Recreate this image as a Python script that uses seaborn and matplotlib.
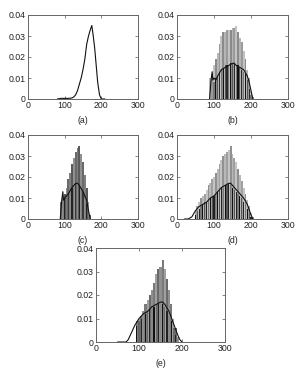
import matplotlib
matplotlib.use("Agg")
import matplotlib.pyplot as plt
import seaborn as sns
import numpy as np

sns.set_theme(style="white")
plt.rcParams['font.family'] = ['Liberation Sans', 'DejaVu Sans']

# ---- data ----
a_line_x = [80, 90, 100, 110, 120, 125, 130, 135, 140, 145, 150, 155, 160, 165, 170, 174, 178, 182, 186, 190, 195, 200, 210]
a_line_y = [0.0, 0.0003, 0.0003, 0.0003, 0.0005, 0.001, 0.002, 0.004, 0.007, 0.010, 0.014, 0.019, 0.026, 0.030, 0.033, 0.035, 0.030, 0.024, 0.016, 0.008, 0.002, 0.0, 0.0]

b_bin = [90, 95, 100, 105, 110, 115, 120, 125, 130, 135, 140, 145, 150, 155, 160, 165, 170, 175, 180, 185, 190, 195, 200, 205]
b_tall = [0.010, 0.012, 0.016, 0.019, 0.022, 0.026, 0.030, 0.032, 0.032, 0.033, 0.033, 0.033, 0.034, 0.034, 0.035, 0.032, 0.029, 0.027, 0.023, 0.019, 0.014, 0.010, 0.004, 0.001]
b_low = [0.0, 0.0, 0.008, 0.010, 0.011, 0.013, 0.014, 0.015, 0.016, 0.016, 0.016, 0.017, 0.017, 0.017, 0.016, 0.016, 0.015, 0.014, 0.013, 0.012, 0.009, 0.005, 0.002, 0.0]
b_line_x = [88, 92, 95, 97, 100, 105, 110, 120, 130, 140, 150, 155, 160, 170, 180, 190, 195, 200, 205]
b_line_y = [0.0, 0.009, 0.013, 0.009, 0.010, 0.009, 0.011, 0.014, 0.015, 0.016, 0.017, 0.017, 0.016, 0.015, 0.014, 0.011, 0.008, 0.004, 0.0]

c_bin = [90, 95, 100, 105, 110, 115, 120, 125, 130, 135, 140, 145, 150, 155, 160, 165, 170]
c_tall = [0.008, 0.010, 0.012, 0.015, 0.019, 0.022, 0.026, 0.029, 0.032, 0.034, 0.035, 0.031, 0.027, 0.021, 0.015, 0.008, 0.002]
c_low = [0.0, 0.008, 0.010, 0.011, 0.012, 0.014, 0.015, 0.016, 0.017, 0.017, 0.016, 0.015, 0.013, 0.010, 0.007, 0.003, 0.0]
c_line_x = [88, 92, 95, 97, 100, 110, 120, 130, 135, 140, 150, 160, 165, 170]
c_line_y = [0.0, 0.009, 0.013, 0.009, 0.010, 0.012, 0.015, 0.017, 0.017, 0.016, 0.013, 0.009, 0.004, 0.0]

d_bin = [50, 55, 60, 65, 70, 75, 80, 85, 90, 95, 100, 105, 110, 115, 120, 125, 130, 135, 140, 145, 150, 155, 160, 165, 170, 175, 180, 185, 190, 195, 200, 205]
d_tall = [0.004, 0.006, 0.008, 0.010, 0.011, 0.012, 0.014, 0.016, 0.017, 0.019, 0.020, 0.022, 0.024, 0.026, 0.028, 0.030, 0.031, 0.032, 0.033, 0.035, 0.031, 0.029, 0.027, 0.024, 0.021, 0.018, 0.015, 0.012, 0.009, 0.006, 0.003, 0.001]
d_low = [0.002, 0.004, 0.005, 0.006, 0.007, 0.008, 0.008, 0.009, 0.010, 0.011, 0.011, 0.012, 0.013, 0.014, 0.015, 0.015, 0.016, 0.016, 0.017, 0.016, 0.015, 0.014, 0.013, 0.012, 0.011, 0.010, 0.008, 0.007, 0.005, 0.003, 0.001, 0.0]
d_line_x = [20, 30, 40, 50, 60, 70, 80, 90, 100, 110, 120, 130, 140, 145, 150, 160, 170, 180, 190, 200, 205]
d_line_y = [0.0, 0.0, 0.001, 0.004, 0.006, 0.007, 0.008, 0.010, 0.011, 0.013, 0.015, 0.016, 0.017, 0.017, 0.016, 0.014, 0.012, 0.010, 0.007, 0.002, 0.0]

e_bin = [95, 100, 105, 110, 115, 120, 125, 130, 135, 140, 145, 150, 155, 160, 165, 170, 175, 180, 185, 190]
e_tall = [0.009, 0.010, 0.011, 0.013, 0.016, 0.018, 0.020, 0.022, 0.025, 0.029, 0.031, 0.032, 0.035, 0.031, 0.027, 0.022, 0.016, 0.010, 0.006, 0.002]
e_low = [0.007, 0.009, 0.010, 0.011, 0.012, 0.013, 0.014, 0.014, 0.015, 0.016, 0.016, 0.016, 0.016, 0.015, 0.013, 0.011, 0.009, 0.006, 0.003, 0.001]
e_line_x = [50, 60, 70, 75, 80, 90, 100, 110, 120, 130, 140, 150, 155, 160, 170, 180, 190, 195, 200]
e_line_y = [0.0, 0.0, 0.0, 0.001, 0.003, 0.007, 0.010, 0.012, 0.013, 0.015, 0.016, 0.017, 0.017, 0.016, 0.013, 0.008, 0.003, 0.001, 0.0]

x_ticks = [0, 100, 200, 300]
y_ticks = [0, 0.01, 0.02, 0.03, 0.04]
y_ticklabels = ["0", "0.01", "0.02", "0.03", "0.04"]
panel_labels = ["(a)", "(b)", "(c)", "(d)", "(e)"]

W, H = 301, 368
fig = plt.figure(figsize=(W / 100, H / 100), dpi=100)

def rect(l, t, r, b):
    return [l / W, 1 - b / H, (r - l) / W, (b - t) / H]

axes = [
    fig.add_axes(rect(28, 15, 138, 99)),
    fig.add_axes(rect(177, 15, 288, 99)),
    fig.add_axes(rect(28, 135, 138, 219)),
    fig.add_axes(rect(177, 135, 288, 219)),
    fig.add_axes(rect(96, 248, 225, 342)),
]

def style(ax, label):
    ax.set_xlim(0, 300)
    ax.set_ylim(0, 0.04)
    ax.set_xticks(x_ticks)
    ax.set_yticks(y_ticks)
    ax.set_yticklabels(y_ticklabels)
    ax.tick_params(direction="in", length=2, width=0.5, labelsize=6.3,
                   top=True, right=True, bottom=True, left=True, pad=1.5,
                   colors="#555555", labelcolor="#222222")
    for s in ax.spines.values():
        s.set_color("#666666")
        s.set_linewidth(0.7)
    ax.set_xlabel(label, fontsize=6.3, labelpad=4, color="#222222")
    ax.set_ylabel("")

def bars(ax, bins, tall, low, tall_cols, low_cols):
    tc = [tall_cols[i % len(tall_cols)] for i in range(len(bins))]
    lc = [low_cols[i % len(low_cols)] for i in range(len(bins))]
    ax.bar(bins, tall, width=5.0, color=tc, linewidth=0, align="center")
    ax.bar(bins, low, width=3.0, color=lc, linewidth=0, align="center")

# (a)
sns.lineplot(x=a_line_x, y=a_line_y, ax=axes[0], color="#111111", linewidth=0.8)
style(axes[0], panel_labels[0])

# (b)
bars(axes[1], b_bin, b_tall, b_low, ["#b5b5b5", "#9a9a9a", "#c2c2c2", "#8a8a8a"], ["#555555", "#2a2a2a", "#777777", "#111111"])
sns.lineplot(x=b_line_x, y=b_line_y, ax=axes[1], color="#111111", linewidth=0.8)
style(axes[1], panel_labels[1])

# (c)
bars(axes[2], c_bin, c_tall, c_low, ["#6a6a6a", "#808080", "#5a5a5a", "#909090"], ["#3a3a3a", "#8a8a8a", "#222222", "#7a7a7a"])
sns.lineplot(x=c_line_x, y=c_line_y, ax=axes[2], color="#111111", linewidth=0.8)
style(axes[2], panel_labels[2])

# (d)
bars(axes[3], d_bin, d_tall, d_low, ["#b8b8b8", "#a0a0a0", "#c4c4c4", "#909090"], ["#111111", "#555555", "#222222", "#777777"])
sns.lineplot(x=d_line_x, y=d_line_y, ax=axes[3], color="#111111", linewidth=0.8)
style(axes[3], panel_labels[3])

# (e)
bars(axes[4], e_bin, e_tall, e_low, ["#7a7a7a", "#a0a0a0", "#6a6a6a", "#909090"], ["#111111", "#666666", "#222222", "#888888"])
sns.lineplot(x=e_line_x, y=e_line_y, ax=axes[4], color="#111111", linewidth=0.8)
style(axes[4], panel_labels[4])

fig.savefig("out.png", dpi=100, facecolor="white")
